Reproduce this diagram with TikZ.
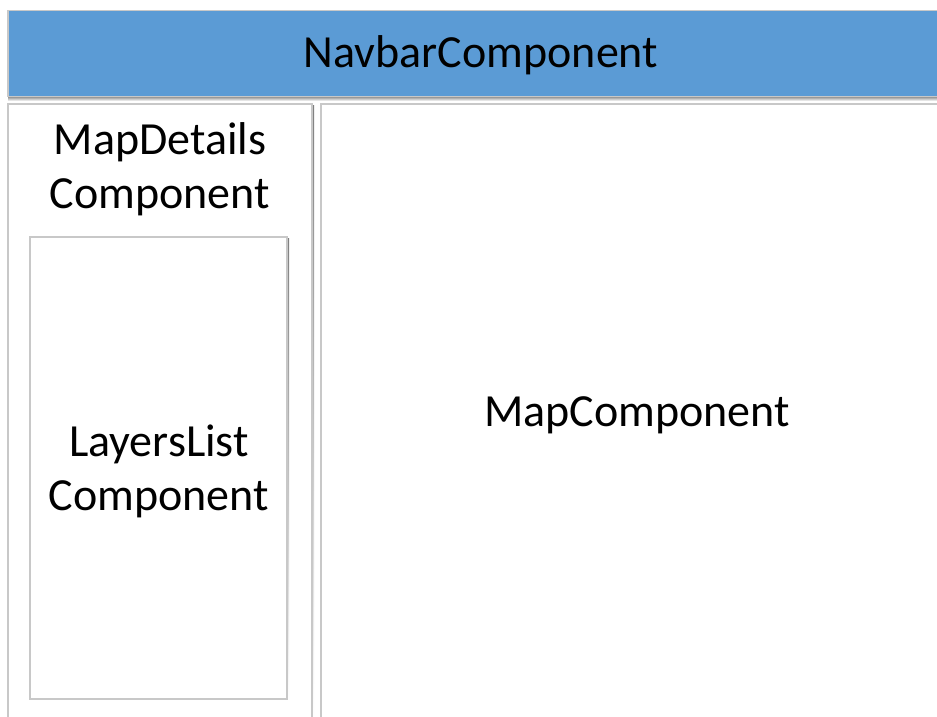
\documentclass[tikz,border=0pt]{standalone}
\usepackage{fontspec}
\setmainfont{Carlito}
\definecolor{navblue}{HTML}{5B9BD5}
\definecolor{edgegray}{HTML}{C8C8C8}
\definecolor{shade}{HTML}{EAF1F9}
\begin{document}
\begin{tikzpicture}[x=1pt,y=-1pt,
  panel/.style={draw=edgegray,line width=1.6pt,fill=white},
  lbl/.style={font=\fontsize{46}{54}\selectfont,align=center,text=black}]
\useasboundingbox (0,0) rectangle (937,716);
\fill[white] (0,0) rectangle (937,716);
% navbar
\fill[shade] (8,96) rectangle (937,101);
\fill[navblue] (8,10) rectangle (940,96);
\draw[edgegray,line width=1.6pt] (940,10.5) -- (8,10.5) -- (8,96.5) -- (940,96.5);
\node[lbl] (nav) at (481,55) {NavbarComponent};
% map details panel
\fill[shade] (9,105) rectangle (314,720);
\draw[panel] (8,104) rectangle (312,730);
\node[lbl] (det) at (160,169) {MapDetails\\Component};
% layers list
\fill[shade] (31,238) rectangle (289,701);
\draw[panel] (30,237) rectangle (287,699);
\node[lbl] (lay) at (159,471) {LayersList\\Component};
% map panel
\draw[panel] (321,104) rectangle (945,730);
\node[lbl] (map) at (637,415) {MapComponent};
\end{tikzpicture}
\end{document}
